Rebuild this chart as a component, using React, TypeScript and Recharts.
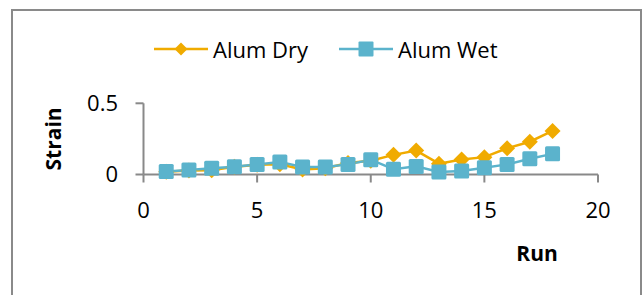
import React from "react";
import { LineChart, Line, XAxis, YAxis, Legend } from "recharts";

const runs = [1, 2, 3, 4, 5, 6, 7, 8, 9, 10, 11, 12, 13, 14, 15, 16, 17, 18];
const alumDry = [0.02, 0.028, 0.03, 0.055, 0.068, 0.072, 0.035, 0.044, 0.08, 0.097, 0.138, 0.168, 0.076, 0.106, 0.122, 0.184, 0.23, 0.306];
const alumWet = [0.021, 0.032, 0.044, 0.055, 0.071, 0.087, 0.053, 0.053, 0.071, 0.104, 0.037, 0.057, 0.018, 0.025, 0.048, 0.071, 0.11, 0.145];
const xTicks = [0, 5, 10, 15, 20];
const yTicks = [0, 0.5];
const seriesNames = ["Alum Dry", "Alum Wet"];

const DRY_COLOR = "#F0AB00";
const WET_COLOR = "#5BB3CC";
const AXIS_COLOR = "#898989";
const FONT = "'Open Sans', sans-serif";

const data = runs.map((r, i) => ({ run: r, dry: alumDry[i], wet: alumWet[i] }));

const DiamondDot = (props: any) => {
  const { cx, cy, index } = props;
  if (cx == null || cy == null) return <g key={`d-${index}`} />;
  const s = 8;
  return (
    <path
      key={`d-${index}`}
      d={`M${cx},${cy - s}L${cx + s},${cy}L${cx},${cy + s}L${cx - s},${cy}Z`}
      fill={DRY_COLOR}
      stroke="none"
    />
  );
};

const SquareDot = (props: any) => {
  const { cx, cy, index } = props;
  if (cx == null || cy == null) return <g key={`s-${index}`} />;
  const s = 7.5;
  return (
    <rect
      key={`s-${index}`}
      x={cx - s}
      y={cy - s}
      width={2 * s}
      height={2 * s}
      rx={1.5}
      fill={WET_COLOR}
      stroke="none"
    />
  );
};

const LegendContent = (props: any) => {
  const { payload } = props;
  return (
    <div style={{ position: "relative", width: 643, height: 103, fontFamily: FONT }}>
      <div
        style={{
          position: "absolute",
          top: 35,
          left: 154,
          display: "flex",
          alignItems: "center",
          height: 28,
        }}
      >
        {(payload || []).map((p: any, i: number) => {
          const isDry = p.dataKey === "dry";
          const color = isDry ? DRY_COLOR : WET_COLOR;
          return (
            <div key={i} style={{ display: "flex", alignItems: "center", marginRight: i === 0 ? 31 : 0 }}>
              <svg width={54} height={20} style={{ marginRight: 5 }}>
                <line x1={0} y1={10} x2={54} y2={10} stroke={color} strokeWidth={2.5} />
                {isDry ? (
                  <path d="M27,3.5L33.5,10L27,16.5L20.5,10Z" fill={color} />
                ) : (
                  <rect x={19.5} y={2.5} width={15} height={15} rx={1} fill={color} />
                )}
              </svg>
              <span style={{ fontSize: 22, color: "#000", lineHeight: "28px" }}>{p.value}</span>
            </div>
          );
        })}
      </div>
    </div>
  );
};

const YTitle = (props: any) => {
  const vb = props.viewBox || {};
  const x = vb.x + 9.5;
  const y = vb.y + vb.height / 2;
  return (
    <text
      x={x}
      y={y}
      transform={`rotate(-90, ${x}, ${y})`}
      textAnchor="middle"
      dominantBaseline="central"
      fontFamily={FONT}
      fontWeight="bold"
      fontSize={21}
      fill="#000"
    >
      Strain
    </text>
  );
};

const XTitle = (props: any) => {
  const vb = props.viewBox || {};
  const x = vb.x + 393.5;
  const y = vb.y + 78.5;
  return (
    <text
      x={x}
      y={y}
      textAnchor="middle"
      dominantBaseline="central"
      fontFamily={FONT}
      fontWeight="bold"
      fontSize={21}
      fill="#000"
    >
      Run
    </text>
  );
};

export default function App() {
  return (
    <div
      style={{
        position: "fixed",
        left: 0,
        top: 0,
        width: 643,
        height: 295,
        overflow: "hidden",
        background: "#fff",
      }}
    >
      <div
        style={{
          position: "absolute",
          left: 11,
          top: 9,
          width: 631,
          height: 400,
          boxSizing: "border-box",
          border: "2px solid #8a8a8a",
        }}
      />
      <div style={{ position: "absolute", left: 0, top: 0 }}>
        <LineChart
          width={643}
          height={295}
          data={data}
          margin={{ top: 0, right: 45, bottom: 20.5, left: 43.5 }}
        >
          <Legend
            verticalAlign="top"
            align="left"
            content={<LegendContent />}
            wrapperStyle={{ left: 0, top: 0, width: 643, height: 103.3 }}
          />
          <XAxis
            type="number"
            dataKey="run"
            domain={[0, 20]}
            ticks={xTicks}
            interval={0}
            height={100}
            tickSize={8}
            tickMargin={19.5}
            axisLine={{ stroke: AXIS_COLOR, strokeWidth: 2 }}
            tickLine={{ stroke: AXIS_COLOR, strokeWidth: 2 }}
            tick={{ fill: "#000", fontSize: 22, fontFamily: FONT }}
            label={<XTitle />}
          />
          <YAxis
            type="number"
            domain={[0, 0.5]}
            ticks={yTicks}
            interval={0}
            width={100}
            tickSize={8}
            tickMargin={17.5}
            axisLine={{ stroke: AXIS_COLOR, strokeWidth: 2 }}
            tickLine={{ stroke: AXIS_COLOR, strokeWidth: 2 }}
            tick={{ fill: "#000", fontSize: 22, fontFamily: FONT }}
            label={<YTitle />}
          />
          <Line
            type="linear"
            dataKey="dry"
            name={seriesNames[0]}
            stroke={DRY_COLOR}
            strokeWidth={2.5}
            dot={DiamondDot}
            activeDot={false}
            isAnimationActive={false}
          />
          <Line
            type="linear"
            dataKey="wet"
            name={seriesNames[1]}
            stroke={WET_COLOR}
            strokeWidth={2.5}
            dot={SquareDot}
            activeDot={false}
            isAnimationActive={false}
          />
        </LineChart>
      </div>
    </div>
  );
}
